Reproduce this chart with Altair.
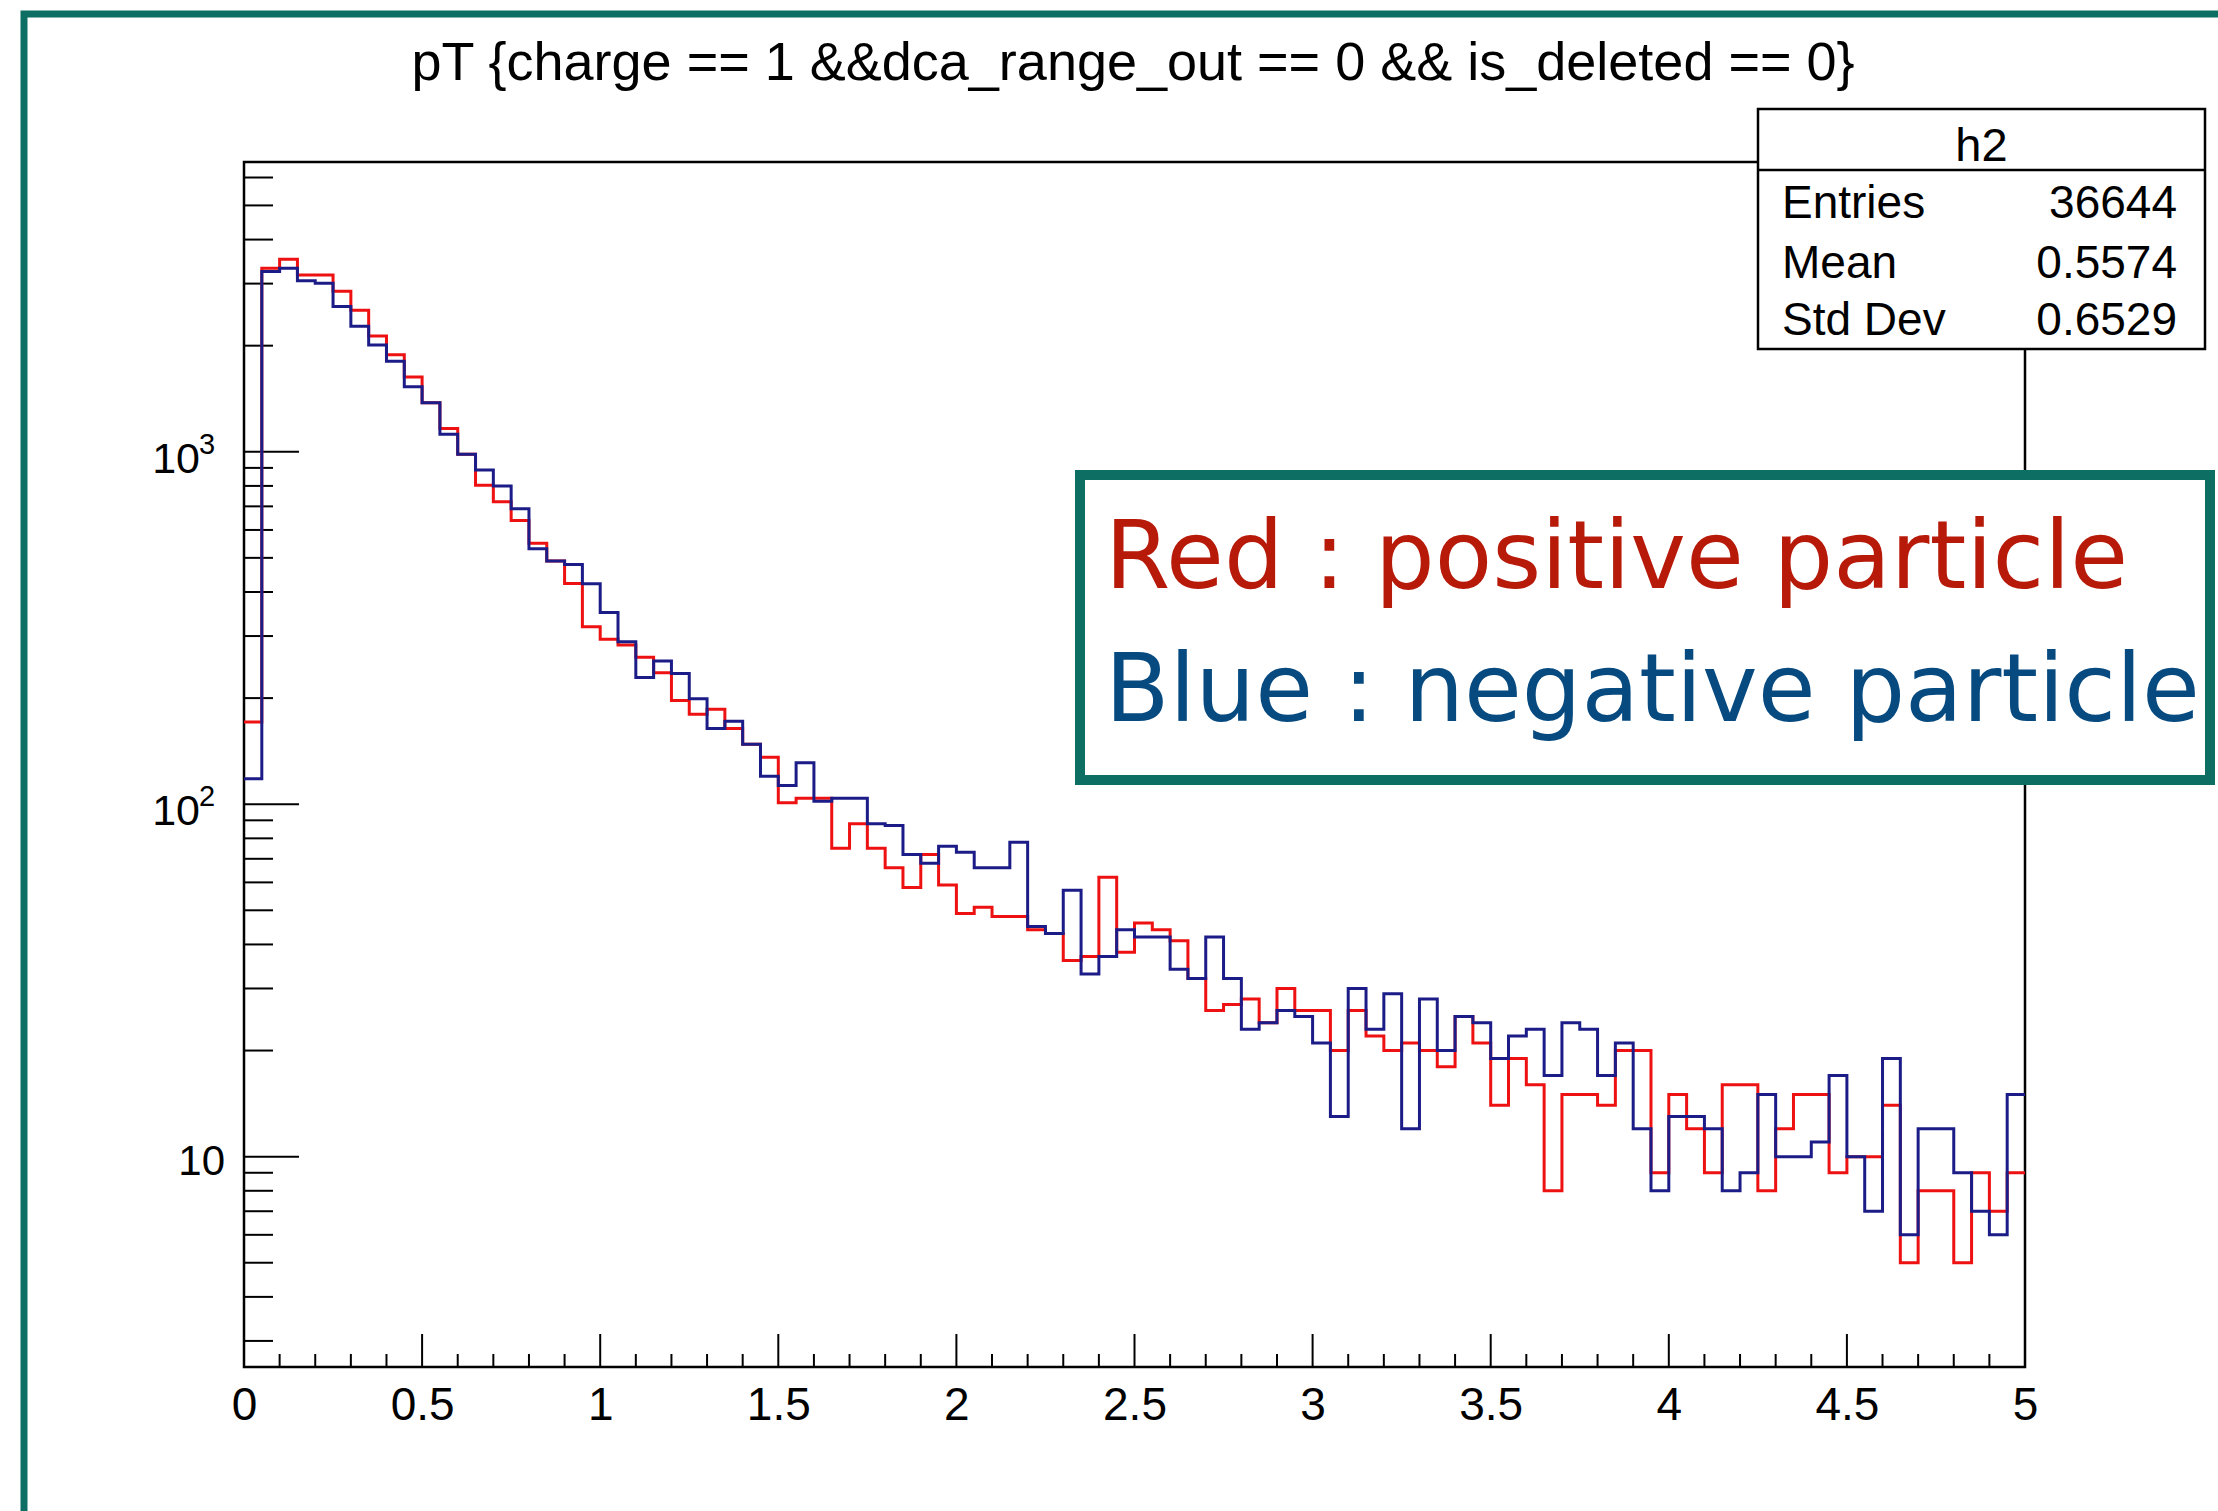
import altair as alt
import pandas as pd

# ---------------- data ----------------
X_MIN, X_MAX, N_BINS = 0.0, 5.0, 100

red_counts = [171, 3318, 3518, 3175, 3175, 2856, 2521, 2132, 1886, 1630,
              1377, 1165, 984, 803, 721, 638, 550, 490, 423, 319,
              294, 283, 261, 236, 197, 180, 186, 164, 148, 136,
              101, 104, 104, 75, 88, 75, 66, 58, 72, 59,
              49, 51, 48, 48, 44, 43, 36, 37, 62, 38,
              46, 44, 41, 32, 26, 27, 28, 24, 30, 26,
              26, 20, 26, 22, 20, 21, 20, 18, 25, 21,
              14, 19, 16, 8, 15, 15, 14, 20, 20, 9,
              15, 12, 9, 16, 16, 8, 12, 15, 15, 9,
              10, 10, 14, 5, 8, 8, 5, 9, 7, 9]

blue_counts = [118, 3245, 3318, 3055, 3006, 2584, 2269, 2009, 1806, 1528,
               1377, 1121, 984, 888, 799, 689, 531, 490, 479, 422,
               350, 289, 229, 255, 235, 199, 164, 172, 148, 120,
               113, 131, 102, 104, 104, 88, 87, 72, 68, 76,
               73, 66, 66, 78, 45, 43, 57, 33, 37, 44,
               42, 42, 34, 32, 42, 32, 23, 24, 26, 25,
               21, 13, 30, 23, 29, 12, 28, 20, 25, 24,
               19, 22, 23, 17, 24, 23, 17, 21, 12, 8,
               13, 13, 12, 8, 9, 15, 10, 10, 11, 17,
               10, 7, 19, 6, 12, 12, 9, 7, 6, 15]

x_label_values = [0, 0.5, 1, 1.5, 2, 2.5, 3, 3.5, 4, 4.5, 5]
x_minor_ticks = [round(i * 0.1, 1) for i in range(51)]
y_major_ticks = [10, 100, 1000]
y_label_base = ["10", "10", "10"]
y_label_exp = ["", "2", "3"]
y_minor_ticks = [3, 4, 5, 6, 7, 8, 9,
                 20, 30, 40, 50, 60, 70, 80, 90,
                 200, 300, 400, 500, 600, 700, 800, 900,
                 2000, 3000, 4000, 5000, 6000]
Y_DOMAIN = [2.53, 6640]

title_text = "pT {charge == 1 &&dca_range_out == 0 && is_deleted == 0}"
stats_title = "h2"
stats_names = ["Entries", "Mean", "Std Dev"]
stats_values = ["36644", "0.5574", "0.6529"]
legend_lines = ["Red : positive particle", "Blue : negative particle"]

# ---------------- layout / style ----------------
PAGE_W, PAGE_H = 2218, 1511
L, T = 244, 162
W, H = 1781, 1205

RED_LINE = "#ee1111"
BLUE_LINE = "#1c1c88"
RED_TEXT = "#b81a0a"
BLUE_TEXT = "#064a80"
TEAL = "#0d6f63"
FONT = "Liberation Sans"

one = pd.DataFrame({"a": [0]})

bw = (X_MAX - X_MIN) / N_BINS
edges = [round(X_MIN + i * bw, 4) for i in range(N_BINS + 1)]


def step_df(counts):
    return pd.DataFrame({"x": edges, "count": list(counts) + [counts[-1]]})


xs = alt.Scale(domain=[X_MIN, X_MAX], nice=False, zero=False)
ys = alt.Scale(type="log", domain=Y_DOMAIN, nice=False)

x_axis = alt.Axis(values=x_label_values, format="~g", title=None, ticks=False,
                  domain=False, grid=False, labelFontSize=46, labelFont=FONT,
                  labelColor="black", labelPadding=16, labelFlush=False,
                  labelOverlap=False)
y_axis = alt.Axis(values=y_major_ticks, labels=False, title=None,
                  ticks=False, domain=False, grid=False)


def X():
    return alt.X("x:Q", scale=xs, axis=x_axis)


def Y():
    return alt.Y("count:Q", scale=ys, axis=y_axis)


layers = []

# outer teal frame of the slide
layers.append(alt.Chart(one).mark_rect(fillOpacity=0, stroke=TEAL, strokeWidth=7).encode(
    x=alt.value(24 - L), x2=alt.value(PAGE_W + 20 - L),
    y=alt.value(14 - T), y2=alt.value(PAGE_H + 20 - T)))

# plot frame
layers.append(alt.Chart(one).mark_rect(fillOpacity=0, stroke="black", strokeWidth=2.5).encode(
    x=alt.value(0), x2=alt.value(W), y=alt.value(0), y2=alt.value(H)))

# x ticks (inward)
xt = pd.DataFrame({"x": x_minor_ticks})
xt["major"] = [abs(v * 2 - round(v * 2)) < 1e-9 for v in x_minor_ticks]
layers.append(alt.Chart(xt[~xt["major"]]).mark_rule(color="black", strokeWidth=2).encode(
    x=X(), y=alt.value(H), y2=alt.value(H - 13)))
layers.append(alt.Chart(xt[xt["major"]]).mark_rule(color="black", strokeWidth=2).encode(
    x=X(), y=alt.value(H), y2=alt.value(H - 33)))

# y ticks (inward)
layers.append(alt.Chart(pd.DataFrame({"count": y_minor_ticks})).mark_rule(color="black", strokeWidth=2).encode(
    y=Y(), x=alt.value(0), x2=alt.value(29)))
layers.append(alt.Chart(pd.DataFrame({"count": y_major_ticks})).mark_rule(color="black", strokeWidth=2).encode(
    y=Y(), x=alt.value(0), x2=alt.value(55)))

# y tick labels (ROOT style 10^n)
ylab = pd.DataFrame({"count": y_major_ticks, "base": y_label_base, "exp": y_label_exp})
plain = ylab[ylab["exp"] == ""]
power = ylab[ylab["exp"] != ""]
layers.append(alt.Chart(plain).mark_text(font=FONT, fontSize=42, align="right",
                                         baseline="alphabetic", dy=18, color="black").encode(
    y=Y(), x=alt.value(-19), text="base:N"))
layers.append(alt.Chart(power).mark_text(font=FONT, fontSize=43, align="right",
                                         baseline="alphabetic", dy=21, color="black").encode(
    y=Y(), x=alt.value(-44), text="base:N"))
layers.append(alt.Chart(power).mark_text(font=FONT, fontSize=29, align="left",
                                         baseline="alphabetic", dy=2, color="black").encode(
    y=Y(), x=alt.value(-45), text="exp:N"))

# histograms
layers.append(alt.Chart(step_df(red_counts)).mark_line(
    interpolate="step-after", color=RED_LINE, strokeWidth=3).encode(x=X(), y=Y()))
layers.append(alt.Chart(step_df(blue_counts)).mark_line(
    interpolate="step-after", color=BLUE_LINE, strokeWidth=3).encode(x=X(), y=Y()))

# stats box
SB_L, SB_R, SB_T, SB_B = 1758 - L, 2205 - L, 109 - T, 349 - T
layers.append(alt.Chart(one).mark_rect(fill="white", stroke="black", strokeWidth=2.5).encode(
    x=alt.value(SB_L), x2=alt.value(SB_R), y=alt.value(SB_T), y2=alt.value(SB_B)))
layers.append(alt.Chart(one).mark_rule(color="black", strokeWidth=2.5).encode(
    x=alt.value(SB_L), x2=alt.value(SB_R), y=alt.value(170 - T)))
layers.append(alt.Chart(one).mark_text(font=FONT, fontSize=47, align="center",
                                       baseline="alphabetic", color="black").encode(
    x=alt.value((SB_L + SB_R) / 2), y=alt.value(161 - T), text=alt.value(stats_title)))
row_baselines = [218, 278, 335]
for name, val, yb in zip(stats_names, stats_values, row_baselines):
    layers.append(alt.Chart(one).mark_text(font=FONT, fontSize=46, align="left",
                                           baseline="alphabetic", color="black").encode(
        x=alt.value(1782 - L), y=alt.value(yb - T), text=alt.value(name)))
    layers.append(alt.Chart(one).mark_text(font=FONT, fontSize=46, align="right",
                                           baseline="alphabetic", color="black").encode(
        x=alt.value(2177 - L), y=alt.value(yb - T), text=alt.value(val)))

# legend box
layers.append(alt.Chart(one).mark_rect(fill="white", stroke=TEAL, strokeWidth=10).encode(
    x=alt.value(1080 - L), x2=alt.value(2210 - L), y=alt.value(475 - T), y2=alt.value(780 - T)))
for txt, col, yb in zip(legend_lines, [RED_TEXT, BLUE_TEXT], [588, 721]):
    layers.append(alt.Chart(one).mark_text(font="DejaVu Sans", fontSize=94, align="left",
                                           baseline="alphabetic", color=col).encode(
        x=alt.value(1105 - L), y=alt.value(yb - T), text=alt.value(txt)))

# title
layers.append(alt.Chart(one).mark_text(font=FONT, fontSize=54, align="center",
                                       baseline="alphabetic", color="black").encode(
    x=alt.value(1133 - L), y=alt.value(80 - T), text=alt.value(title_text)))

chart = alt.layer(*layers).properties(
    width=W, height=H,
    padding={"left": L, "top": T, "right": PAGE_W - L - W, "bottom": PAGE_H - T - H},
    autosize=alt.AutoSizeParams(type="none"),
).configure_view(strokeWidth=0).configure(background="white")

chart.save("out.html", embed_options={"renderer": "svg", "actions": False})
